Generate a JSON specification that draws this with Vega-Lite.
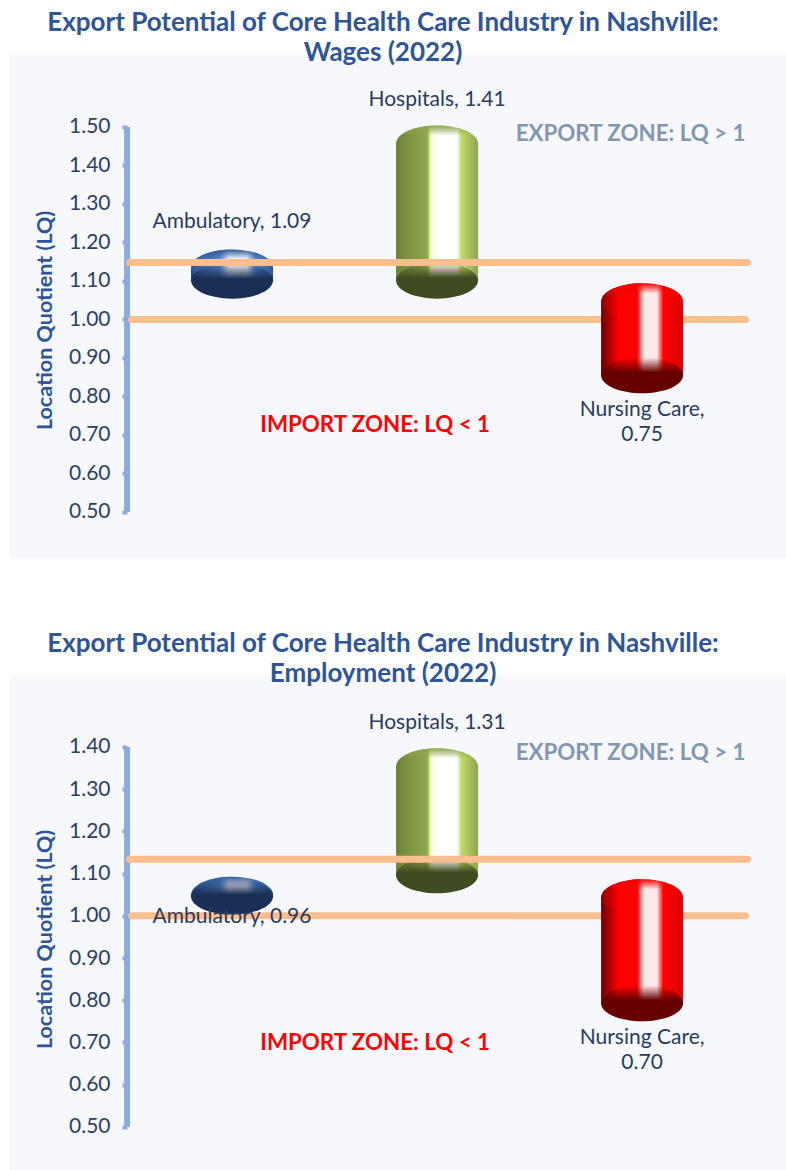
{"$schema":"https://vega.github.io/schema/vega-lite/v6.json","background":"white","padding":{"left":10,"top":10,"right":0,"bottom":0},"spacing":73,
"config":{"view":{"fill":"#F6F8FD","stroke":null},"title":{"font":"Lato","fontWeight":"bold","fontSize":26,"color":"#2F5597","lineHeight":30,"anchor":"middle","dx":-15,"offset":-11},"text":{"font":"Lato"}},
"datasets":{
"wagesBars":[{"category":"Ambulatory","value":1.09,"top":1.135,"bottom":1.101,"labelAt":1.252,"pos":1,"label":"Ambulatory, 1.09"},{"category":"Hospitals","value":1.41,"top":1.457,"bottom":1.101,"labelAt":1.569,"pos":2,"label":"Hospitals, 1.41"},{"category":"Nursing Care","value":0.75,"top":1.047,"bottom":0.855,"labelAt":0.764,"pos":3,"label":"Nursing Care,\n0.75"}],
"empBars":[{"category":"Ambulatory","value":0.96,"top":1.05,"bottom":1.046,"labelAt":0.997,"pos":1,"label":"Ambulatory, 0.96"},{"category":"Hospitals","value":1.31,"top":1.354,"bottom":1.096,"labelAt":1.456,"pos":2,"label":"Hospitals, 1.31"},{"category":"Nursing Care","value":0.70,"top":1.044,"bottom":0.793,"labelAt":0.71,"pos":3,"label":"Nursing Care,\n0.70"}],
"wagesLines":[{"line":"lower","lq":1.0,"from":0.51,"to":3.505},{"line":"upper","lq":1.148,"from":0.5,"to":3.515}],
"empLines":[{"line":"lower","lq":1.0,"from":0.51,"to":3.505},{"line":"upper","lq":1.134,"from":0.5,"to":3.515}],
"axisLine":[{"pos":0.488,"from":0.5,"to":1.5}],
"axisLine2":[{"pos":0.488,"from":0.5,"to":1.4}],
"wagesZones":[{"zone":"EXPORT ZONE: LQ > 1","pos":2.944,"lq":1.483},{"zone":"IMPORT ZONE: LQ < 1","pos":1.698,"lq":0.725}],
"empZones":[{"zone":"EXPORT ZONE: LQ > 1","pos":2.944,"lq":1.385},{"zone":"IMPORT ZONE: LQ < 1","pos":1.698,"lq":0.698}]
},
"vconcat":[
{"width":776,"height":503,"title":{"text":["Export Potential of Core Health Care Industry in Nashville:","Wages (2022)"]},
"layer":[
{"data":{"name":"axisLine"},"mark":{"type":"rule","color":"#8FAADC","strokeWidth":6},"encoding":{"x":{"field":"pos","type":"quantitative","axis":null,"scale":{"domain":[-0.083,3.702],"nice":false,"zero":false,"padding":0}},"y":{"field":"from","type":"quantitative","scale":{"domain":[0.3805,1.687],"nice":false,"zero":false},"axis":{"title":"Location Quotient (LQ)","titleFont":"Lato","titleFontSize":21.5,"titleFontWeight":"bold","titleColor":"#2F5597","titleX":-71,"titleY":265,"offset":-117,"values":[0.5,0.6,0.7,0.8,0.9,1.0,1.1,1.2,1.3,1.4,1.5],"format":".2f","grid":false,"domain":false,"tickColor":"#8FAADC","tickSize":5,"tickWidth":4,"labelFont":"Lato","labelFontSize":21,"labelColor":"#2F3F62","labelPadding":12}},"y2":{"field":"to"}}},
{"data":{"name":"wagesLines"},"transform":[{"filter":"datum.line==='lower'"}],"mark":{"type":"rule","color":"#FBBF8F","strokeWidth":7,"strokeCap":"round"},"encoding":{"x":{"field":"from","type":"quantitative"},"x2":{"field":"to"},"y":{"field":"lq","type":"quantitative"}}},
{"data":{"name":"wagesBars"},"mark":{"type":"bar","size":82,"orient":"vertical"},"encoding":{"x":{"field":"pos","type":"quantitative"},"y":{"field":"top","type":"quantitative"},"y2":{"field":"bottom"},"fill":{"condition":[{"test":"datum.category==='Ambulatory'","value":{"gradient":"linear","x1":0,"x2":1,"y1":0,"y2":0,"stops":[{"offset":0,"color":"#223F72"},{"offset":0.35,"color":"#4878BE"},{"offset":0.46,"color":"#FFFFFF"},{"offset":0.68,"color":"#FFFFFF"},{"offset":0.78,"color":"#4E80C8"},{"offset":1,"color":"#2C5696"}]}},{"test":"datum.category==='Hospitals'","value":{"gradient":"linear","x1":0,"x2":1,"y1":0,"y2":0,"stops":[{"offset":0,"color":"#6E8238"},{"offset":0.38,"color":"#90A850"},{"offset":0.42,"color":"#F0FFA0"},{"offset":0.46,"color":"#FFFFFF"},{"offset":0.74,"color":"#FFFFFF"},{"offset":0.8,"color":"#C0D868"},{"offset":1,"color":"#8CA44C"}]}}],"value":{"gradient":"linear","x1":0,"x2":1,"y1":0,"y2":0,"stops":[{"offset":0,"color":"#6A0000"},{"offset":0.22,"color":"#FF0000"},{"offset":0.44,"color":"#FF0000"},{"offset":0.52,"color":"#FFE8E8"},{"offset":0.68,"color":"#FFE8E8"},{"offset":0.76,"color":"#FF0000"},{"offset":1,"color":"#E00000"}]}}}},
{"data":{"name":"wagesBars"},"mark":{"type":"point","filled":true,"opacity":1,"size":6724,"shape":"M-1,0C-1,-0.24 -0.552,-0.44 0,-0.44C0.552,-0.44 1,-0.24 1,0C1,0.24 0.552,0.44 0,0.44C-0.552,0.44 -1,0.24 -1,0Z"},"encoding":{"x":{"field":"pos","type":"quantitative"},"y":{"field":"top","type":"quantitative"},"fill":{"condition":[{"test":"datum.category==='Ambulatory'","value":{"gradient":"linear","x1":0,"x2":1,"y1":0,"y2":0,"stops":[{"offset":0,"color":"#2C5696"},{"offset":0.35,"color":"#5588D0"},{"offset":0.46,"color":"#FFFFFF"},{"offset":0.68,"color":"#FFFFFF"},{"offset":0.78,"color":"#5588D0"},{"offset":1,"color":"#2C5696"}]}},{"test":"datum.category==='Hospitals'","value":{"gradient":"linear","x1":0,"x2":1,"y1":0,"y2":0,"stops":[{"offset":0,"color":"#6E8238"},{"offset":0.38,"color":"#90A850"},{"offset":0.42,"color":"#F0FFA0"},{"offset":0.46,"color":"#FFFFFF"},{"offset":0.74,"color":"#FFFFFF"},{"offset":0.8,"color":"#C0D868"},{"offset":1,"color":"#8CA44C"}]}}],"value":{"gradient":"linear","x1":0,"x2":1,"y1":0,"y2":0,"stops":[{"offset":0,"color":"#8A0000"},{"offset":0.22,"color":"#FF0000"},{"offset":0.44,"color":"#FF0000"},{"offset":0.52,"color":"#FFE8E8"},{"offset":0.68,"color":"#FFE8E8"},{"offset":0.76,"color":"#FF0000"},{"offset":1,"color":"#E00000"}]}}}},
{"data":{"name":"wagesBars"},"mark":{"type":"point","filled":true,"opacity":1,"size":6724,"shape":"M-1,0C-1,-0.24 -0.552,-0.44 0,-0.44C0.552,-0.44 1,-0.24 1,0C1,0.24 0.552,0.44 0,0.44C-0.552,0.44 -1,0.24 -1,0Z"},"encoding":{"x":{"field":"pos","type":"quantitative"},"y":{"field":"top","type":"quantitative"},"fill":{"condition":[{"test":"datum.category==='Ambulatory'","value":{"gradient":"linear","x1":0,"x2":0,"y1":0,"y2":1,"stops":[{"offset":0,"color":"#2C5696"},{"offset":0.28,"color":"rgba(44,86,150,0)"},{"offset":1,"color":"rgba(44,86,150,0)"}]}},{"test":"datum.category==='Hospitals'","value":{"gradient":"linear","x1":0,"x2":0,"y1":0,"y2":1,"stops":[{"offset":0,"color":"#8CA44C"},{"offset":0.28,"color":"rgba(140,164,76,0)"},{"offset":1,"color":"rgba(140,164,76,0)"}]}}],"value":{"gradient":"linear","x1":0,"x2":0,"y1":0,"y2":1,"stops":[{"offset":0,"color":"#F00000"},{"offset":0.28,"color":"rgba(240,0,0,0)"},{"offset":1,"color":"rgba(240,0,0,0)"}]}}}},
{"data":{"name":"wagesBars"},"mark":{"type":"point","filled":true,"opacity":1,"size":6724,"shape":"M-1,0C-1,-0.24 -0.552,-0.44 0,-0.44C0.552,-0.44 1,-0.24 1,0C1,0.24 0.552,0.44 0,0.44C-0.552,0.44 -1,0.24 -1,0Z"},"encoding":{"x":{"field":"pos","type":"quantitative"},"y":{"field":"bottom","type":"quantitative"},"fill":{"condition":[{"test":"datum.category==='Ambulatory'","value":{"gradient":"linear","x1":0,"x2":0,"y1":0,"y2":1,"stops":[{"offset":0,"color":"rgba(27,47,85,0)"},{"offset":0.45,"color":"#1B2F55"},{"offset":1,"color":"#1B2F55"}]}},{"test":"datum.category==='Hospitals'","value":{"gradient":"linear","x1":0,"x2":0,"y1":0,"y2":1,"stops":[{"offset":0,"color":"rgba(63,75,32,0)"},{"offset":0.42,"color":"#3F4B20"},{"offset":1,"color":"#3F4B20"}]}}],"value":{"gradient":"linear","x1":0,"x2":0,"y1":0,"y2":1,"stops":[{"offset":0,"color":"rgba(102,0,0,0)"},{"offset":0.42,"color":"#660000"},{"offset":1,"color":"#660000"}]}}}},
{"data":{"name":"wagesLines"},"transform":[{"filter":"datum.line==='upper'"}],"mark":{"type":"rule","color":"#FBBF8F","strokeWidth":7,"strokeCap":"round"},"encoding":{"x":{"field":"from","type":"quantitative"},"x2":{"field":"to"},"y":{"field":"lq","type":"quantitative"}}},
{"data":{"name":"wagesBars"},"mark":{"type":"text","fontSize":21,"color":"#2B3A5E","lineBreak":"\n","lineHeight":25,"align":"center","baseline":"middle"},"encoding":{"x":{"field":"pos","type":"quantitative"},"y":{"field":"labelAt","type":"quantitative"},"text":{"field":"label"}}},
{"data":{"name":"wagesZones"},"mark":{"type":"text","fontSize":22.3,"fontWeight":"bold","align":"center","baseline":"middle"},"encoding":{"x":{"field":"pos","type":"quantitative"},"y":{"field":"lq","type":"quantitative"},"text":{"field":"zone"},"color":{"condition":{"test":"datum.zone[0]==='E'","value":"#8497B0"},"value":"#FF0000"}}}
]},
{"width":776,"height":494,"title":{"text":["Export Potential of Core Health Care Industry in Nashville:","Employment (2022)"]},
"layer":[
{"data":{"name":"axisLine2"},"mark":{"type":"rule","color":"#8FAADC","strokeWidth":6},"encoding":{"x":{"field":"pos","type":"quantitative","axis":null,"scale":{"domain":[-0.083,3.702],"nice":false,"zero":false,"padding":0}},"y":{"field":"from","type":"quantitative","scale":{"domain":[0.398,1.568],"nice":false,"zero":false},"axis":{"title":"Location Quotient (LQ)","titleFont":"Lato","titleFontSize":21.5,"titleFontWeight":"bold","titleColor":"#2F5597","titleX":-71,"titleY":263,"offset":-117,"values":[0.5,0.6,0.7,0.8,0.9,1.0,1.1,1.2,1.3,1.4],"format":".2f","grid":false,"domain":false,"tickColor":"#8FAADC","tickSize":5,"tickWidth":4,"labelFont":"Lato","labelFontSize":21,"labelColor":"#2F3F62","labelPadding":12}},"y2":{"field":"to"}}},
{"data":{"name":"empLines"},"transform":[{"filter":"datum.line==='lower'"}],"mark":{"type":"rule","color":"#FBBF8F","strokeWidth":7,"strokeCap":"round"},"encoding":{"x":{"field":"from","type":"quantitative"},"x2":{"field":"to"},"y":{"field":"lq","type":"quantitative"}}},
{"data":{"name":"empBars"},"mark":{"type":"bar","size":82,"orient":"vertical"},"encoding":{"x":{"field":"pos","type":"quantitative"},"y":{"field":"top","type":"quantitative"},"y2":{"field":"bottom"},"fill":{"condition":[{"test":"datum.category==='Ambulatory'","value":{"gradient":"linear","x1":0,"x2":1,"y1":0,"y2":0,"stops":[{"offset":0,"color":"#223F72"},{"offset":0.35,"color":"#4878BE"},{"offset":0.46,"color":"#FFFFFF"},{"offset":0.68,"color":"#FFFFFF"},{"offset":0.78,"color":"#4E80C8"},{"offset":1,"color":"#2C5696"}]}},{"test":"datum.category==='Hospitals'","value":{"gradient":"linear","x1":0,"x2":1,"y1":0,"y2":0,"stops":[{"offset":0,"color":"#6E8238"},{"offset":0.38,"color":"#90A850"},{"offset":0.42,"color":"#F0FFA0"},{"offset":0.46,"color":"#FFFFFF"},{"offset":0.74,"color":"#FFFFFF"},{"offset":0.8,"color":"#C0D868"},{"offset":1,"color":"#8CA44C"}]}}],"value":{"gradient":"linear","x1":0,"x2":1,"y1":0,"y2":0,"stops":[{"offset":0,"color":"#6A0000"},{"offset":0.22,"color":"#FF0000"},{"offset":0.44,"color":"#FF0000"},{"offset":0.52,"color":"#FFE8E8"},{"offset":0.68,"color":"#FFE8E8"},{"offset":0.76,"color":"#FF0000"},{"offset":1,"color":"#E00000"}]}}}},
{"data":{"name":"empBars"},"mark":{"type":"point","filled":true,"opacity":1,"size":6724,"shape":"M-1,0C-1,-0.24 -0.552,-0.44 0,-0.44C0.552,-0.44 1,-0.24 1,0C1,0.24 0.552,0.44 0,0.44C-0.552,0.44 -1,0.24 -1,0Z"},"encoding":{"x":{"field":"pos","type":"quantitative"},"y":{"field":"top","type":"quantitative"},"fill":{"condition":[{"test":"datum.category==='Ambulatory'","value":{"gradient":"linear","x1":0,"x2":1,"y1":0,"y2":0,"stops":[{"offset":0,"color":"#2C5696"},{"offset":0.35,"color":"#5588D0"},{"offset":0.46,"color":"#FFFFFF"},{"offset":0.68,"color":"#FFFFFF"},{"offset":0.78,"color":"#5588D0"},{"offset":1,"color":"#2C5696"}]}},{"test":"datum.category==='Hospitals'","value":{"gradient":"linear","x1":0,"x2":1,"y1":0,"y2":0,"stops":[{"offset":0,"color":"#6E8238"},{"offset":0.38,"color":"#90A850"},{"offset":0.42,"color":"#F0FFA0"},{"offset":0.46,"color":"#FFFFFF"},{"offset":0.74,"color":"#FFFFFF"},{"offset":0.8,"color":"#C0D868"},{"offset":1,"color":"#8CA44C"}]}}],"value":{"gradient":"linear","x1":0,"x2":1,"y1":0,"y2":0,"stops":[{"offset":0,"color":"#8A0000"},{"offset":0.22,"color":"#FF0000"},{"offset":0.44,"color":"#FF0000"},{"offset":0.52,"color":"#FFE8E8"},{"offset":0.68,"color":"#FFE8E8"},{"offset":0.76,"color":"#FF0000"},{"offset":1,"color":"#E00000"}]}}}},
{"data":{"name":"empBars"},"mark":{"type":"point","filled":true,"opacity":1,"size":6724,"shape":"M-1,0C-1,-0.24 -0.552,-0.44 0,-0.44C0.552,-0.44 1,-0.24 1,0C1,0.24 0.552,0.44 0,0.44C-0.552,0.44 -1,0.24 -1,0Z"},"encoding":{"x":{"field":"pos","type":"quantitative"},"y":{"field":"top","type":"quantitative"},"fill":{"condition":[{"test":"datum.category==='Ambulatory'","value":{"gradient":"linear","x1":0,"x2":0,"y1":0,"y2":1,"stops":[{"offset":0,"color":"#2C5696"},{"offset":0.28,"color":"rgba(44,86,150,0)"},{"offset":1,"color":"rgba(44,86,150,0)"}]}},{"test":"datum.category==='Hospitals'","value":{"gradient":"linear","x1":0,"x2":0,"y1":0,"y2":1,"stops":[{"offset":0,"color":"#8CA44C"},{"offset":0.28,"color":"rgba(140,164,76,0)"},{"offset":1,"color":"rgba(140,164,76,0)"}]}}],"value":{"gradient":"linear","x1":0,"x2":0,"y1":0,"y2":1,"stops":[{"offset":0,"color":"#F00000"},{"offset":0.28,"color":"rgba(240,0,0,0)"},{"offset":1,"color":"rgba(240,0,0,0)"}]}}}},
{"data":{"name":"empBars"},"mark":{"type":"point","filled":true,"opacity":1,"size":6724,"shape":"M-1,0C-1,-0.24 -0.552,-0.44 0,-0.44C0.552,-0.44 1,-0.24 1,0C1,0.24 0.552,0.44 0,0.44C-0.552,0.44 -1,0.24 -1,0Z"},"encoding":{"x":{"field":"pos","type":"quantitative"},"y":{"field":"bottom","type":"quantitative"},"fill":{"condition":[{"test":"datum.category==='Ambulatory'","value":{"gradient":"linear","x1":0,"x2":0,"y1":0,"y2":1,"stops":[{"offset":0,"color":"rgba(27,47,85,0)"},{"offset":0.45,"color":"#1B2F55"},{"offset":1,"color":"#1B2F55"}]}},{"test":"datum.category==='Hospitals'","value":{"gradient":"linear","x1":0,"x2":0,"y1":0,"y2":1,"stops":[{"offset":0,"color":"rgba(63,75,32,0)"},{"offset":0.42,"color":"#3F4B20"},{"offset":1,"color":"#3F4B20"}]}}],"value":{"gradient":"linear","x1":0,"x2":0,"y1":0,"y2":1,"stops":[{"offset":0,"color":"rgba(102,0,0,0)"},{"offset":0.42,"color":"#660000"},{"offset":1,"color":"#660000"}]}}}},
{"data":{"name":"empLines"},"transform":[{"filter":"datum.line==='upper'"}],"mark":{"type":"rule","color":"#FBBF8F","strokeWidth":7,"strokeCap":"round"},"encoding":{"x":{"field":"from","type":"quantitative"},"x2":{"field":"to"},"y":{"field":"lq","type":"quantitative"}}},
{"data":{"name":"empBars"},"mark":{"type":"text","fontSize":21,"color":"#2B3A5E","lineBreak":"\n","lineHeight":25,"align":"center","baseline":"middle"},"encoding":{"x":{"field":"pos","type":"quantitative"},"y":{"field":"labelAt","type":"quantitative"},"text":{"field":"label"}}},
{"data":{"name":"empZones"},"mark":{"type":"text","fontSize":22.3,"fontWeight":"bold","align":"center","baseline":"middle"},"encoding":{"x":{"field":"pos","type":"quantitative"},"y":{"field":"lq","type":"quantitative"},"text":{"field":"zone"},"color":{"condition":{"test":"datum.zone[0]==='E'","value":"#8497B0"},"value":"#FF0000"}}}
]}
]}
